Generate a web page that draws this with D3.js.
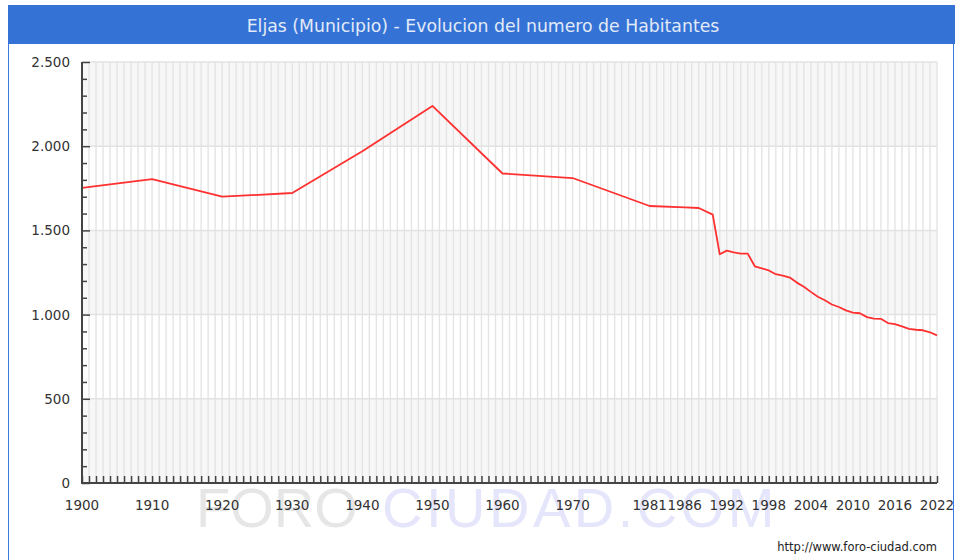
<!DOCTYPE html>
<html>
<head>
<meta charset="utf-8">
<script src="https://cdn.jsdelivr.net/npm/d3@7"></script>
<style>
  body { margin: 0; background: #fff; }
  svg { display: block; }
</style>
</head>
<body>
<div id="chart"></div>
<script>
// Data
const title = 'Eljas (Municipio) - Evolucion del numero de Habitantes';
const years = [1900, 1910, 1920, 1930, 1940, 1950, 1960, 1970, 1981, 1986, 1988, 1990, 1991, 1992, 1993, 1994, 1995,
  1996, 1997, 1998, 1999, 2000, 2001, 2002, 2003, 2004, 2005, 2006, 2007, 2008, 2009, 2010,
  2011, 2012, 2013, 2014, 2015, 2016, 2017, 2018, 2019, 2020, 2021, 2022];
const habitantes = [1752, 1805, 1700, 1722, 1970, 2239, 1838, 1811, 1645, 1637, 1633, 1594, 1358, 1380, 1370, 1362, 1362,
  1287, 1275, 1262, 1240, 1232, 1220, 1190, 1165, 1135, 1106, 1085, 1060, 1045, 1025, 1012,
  1008, 985, 976, 975, 950, 943, 930, 915, 910, 907, 895, 877];
const xTickLabels = [1900, 1910, 1920, 1930, 1940, 1950, 1960, 1970, 1981, 1986, 1992, 1998, 2004, 2010, 2016, 2022];
const yTickLabels = [0, 500, 1000, 1500, 2000, 2500];

const width = 955;
const height = 560;
const margin = {top: 62, right: 18, bottom: 77, left: 82};

const data = years.map((y, i) => ({year: y, value: habitantes[i]}));

const svg = d3.select('#chart').append('svg')
    .attr('width', width)
    .attr('height', height);

const x = d3.scaleLinear()
    .domain([1900, 2022])
    .range([margin.left, width - margin.right]);

const y = d3.scaleLinear()
    .domain([0, 2500])
    .range([height - margin.bottom, margin.top]);

// frame + title bar
svg.append('rect')
    .attr('x', 8.5).attr('y', 5.5)
    .attr('width', 945).attr('height', 620)
    .attr('fill', 'none')
    .attr('stroke', '#3c7ae0');

svg.append('rect')
    .attr('x', 8).attr('y', 5)
    .attr('width', 947).attr('height', 39)
    .attr('fill', '#3473d5');

svg.append('text')
    .attr('x', 483).attr('y', 32)
    .attr('text-anchor', 'middle')
    .style('font-family', 'DejaVu Sans, Verdana, sans-serif')
    .style('font-size', '17.3px')
    .attr('fill', '#e3eaf8')
    .text(title);

// watermark
const wm = svg.append('text')
    .attr('y', 527)
    .style('font-family', 'Liberation Sans, Arial, sans-serif')
    .style('font-size', '56px');
wm.append('tspan').attr('x', 196).attr('fill', '#e6e6e6').text('FORO');
wm.append('tspan').attr('x', 382).attr('fill', '#e5e5fb').style('letter-spacing', '3.5px').text('CIUDAD.COM');

// alternating horizontal bands
const bands = d3.range(0, 2500, 500);
svg.selectAll('rect.band')
    .data(bands)
    .enter()
    .append('rect')
    .attr('class', 'band')
    .attr('x', x(1900))
    .attr('width', x(2022) - x(1900))
    .attr('y', d => y(d + 500))
    .attr('height', d => y(d) - y(d + 500))
    .attr('fill', (d, i) => i % 2 === 0 ? '#f7f7f7' : '#ffffff');

// yearly vertical grid
svg.selectAll('line.vgrid')
    .data(d3.range(1901, 2023))
    .enter()
    .append('line')
    .attr('class', 'vgrid')
    .attr('x1', d => x(d)).attr('x2', d => x(d))
    .attr('y1', y(2500)).attr('y2', y(0))
    .attr('stroke', '#e4e4e4')
    .attr('stroke-width', 1.4);

// horizontal grid
svg.selectAll('line.hgrid')
    .data(yTickLabels.slice(1))
    .enter()
    .append('line')
    .attr('class', 'hgrid')
    .attr('x1', x(1900)).attr('x2', x(2022))
    .attr('y1', d => y(d)).attr('y2', d => y(d))
    .attr('stroke', '#e2e2e2')
    .attr('stroke-width', 1.5);

// line
const line = d3.line()
    .x(d => x(d.year))
    .y(d => y(d.value));

svg.append('path')
    .datum(data)
    .attr('fill', 'none')
    .attr('stroke', '#ff3030')
    .attr('stroke-width', 1.8)
    .attr('stroke-linejoin', 'round')
    .attr('d', line);

// y axis
const yAxis = d3.axisRight(y)
    .tickValues(d3.range(0, 2501, 100))
    .tickSize(5)
    .tickFormat('');

const gy = svg.append('g')
    .attr('transform', `translate(${x(1900)},0)`)
    .call(yAxis);
gy.select('.domain').attr('stroke', '#444').attr('stroke-width', 2).attr('d', `M0,${y(2500)}V${y(0)}`);
gy.selectAll('.tick line')
    .attr('stroke', '#444')
    .attr('stroke-width', 1.5)
    .attr('x2', d => d % 500 === 0 ? 8 : 5);

svg.selectAll('text.ylab')
    .data(yTickLabels)
    .enter()
    .append('text')
    .attr('class', 'ylab')
    .attr('x', 70)
    .attr('y', d => y(d) + 5)
    .attr('text-anchor', 'end')
    .style('font-family', 'DejaVu Sans, Verdana, sans-serif')
    .style('font-size', '13.5px')
    .attr('fill', '#333')
    .text(d => d3.format(',')(d).replace(/,/g, '.'));

// x axis
const xAxis = d3.axisTop(x)
    .tickValues(d3.range(1900, 2023))
    .tickSize(7)
    .tickFormat('');

const gx = svg.append('g')
    .attr('transform', `translate(0,${y(0)})`)
    .call(xAxis);
gx.select('.domain').attr('stroke', '#444').attr('stroke-width', 2).attr('d', `M${x(1900) - 1},0H${x(2022)}`);
gx.selectAll('.tick line').attr('stroke', '#444').attr('stroke-width', 1.5);

svg.selectAll('text.xlab')
    .data(xTickLabels)
    .enter()
    .append('text')
    .attr('class', 'xlab')
    .attr('x', d => x(d))
    .attr('y', 510)
    .attr('text-anchor', 'middle')
    .style('font-family', 'DejaVu Sans, Verdana, sans-serif')
    .style('font-size', '13.5px')
    .attr('fill', '#333')
    .text(d => d);

// footer
svg.append('text')
    .attr('x', 937).attr('y', 551)
    .attr('text-anchor', 'end')
    .style('font-family', 'DejaVu Sans, Verdana, sans-serif')
    .style('font-size', '11.5px')
    .attr('fill', '#222')
    .text('http://www.foro-ciudad.com');
</script>
</body>
</html>
